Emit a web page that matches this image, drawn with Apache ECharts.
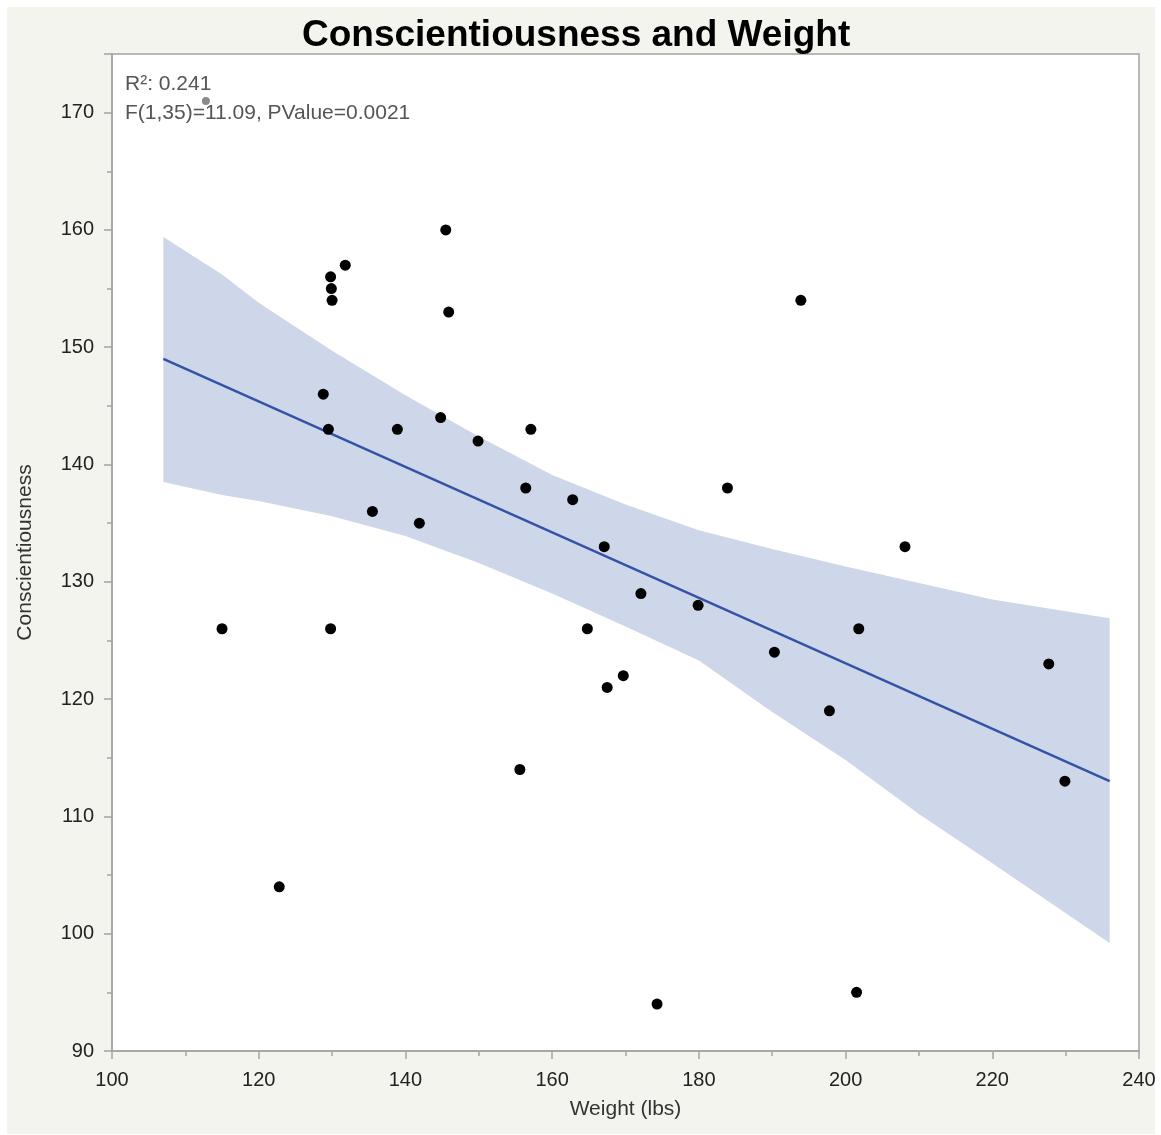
<!DOCTYPE html>
<html>
<head>
<meta charset="utf-8">
<script src="https://cdn.jsdelivr.net/npm/echarts@6.0.0/dist/echarts.min.js"></script>
<style>
  html, body { margin: 0; padding: 0; background: #fff; }
  #chart { position: absolute; left: 7px; top: 7px; width: 1148px; height: 1127px; }
</style>
</head>
<body>
<div id="chart"></div>
<script>
// scatter points
const weight = [115, 122.8, 128.8, 129.5, 129.8, 129.9, 130.0, 129.8, 131.8, 135.5, 138.9, 141.9,
  144.8, 145.5, 145.9, 149.9, 155.6, 156.4, 157.1, 162.8, 164.8, 167.1, 167.5, 169.7,
  172.1, 174.3, 179.9, 183.9, 190.3, 193.9, 197.8, 201.5, 201.8, 208.1, 227.7, 229.9];
const consc = [126, 104, 146, 143, 156, 155, 154, 126, 157, 136, 143, 135,
  144, 160, 153, 142, 114, 138, 143, 137, 126, 133, 121, 122,
  129, 94, 128, 138, 124, 154, 119, 95, 126, 133, 123, 113];

// faint grey marker near the top left
const greyX = [112.8];
const greyY = [171];

// fit line ends
const fitX = [107, 236];
const fitY = [149, 113];

// confidence band edges
const bandX = [107, 115, 120, 130, 140, 150, 160, 170, 180, 190, 200, 210, 220, 236];
const bandLower = [138.5, 137.4, 136.9, 135.6, 133.9, 131.6, 129.0, 126.2, 123.3, 118.9, 114.8, 110.2, 106.0, 99.2];
const bandUpper = [159.4, 156.2, 153.8, 149.7, 145.9, 142.4, 139.1, 136.6, 134.4, 132.8, 131.3, 129.9, 128.5, 126.9];

const xTicks = [100, 120, 140, 160, 180, 200, 220, 240];
const yTicks = [90, 100, 110, 120, 130, 140, 150, 160, 170];

const statLines = ['R\u00b2: 0.241', 'F(1,35)=11.09, PValue=0.0021'];

const FONT = '"Liberation Sans", Arial, sans-serif';

const chart = echarts.init(document.getElementById('chart'));

const option = {
  backgroundColor: '#f4f4ef',
  animation: false,
  title: {
    text: 'Conscientiousness and Weight',
    left: 290,
    top: 5,
    textStyle: { fontFamily: FONT, fontSize: 37, fontWeight: 'bold', color: '#000' }
  },
  grid: {
    left: 105, right: 16, top: 47, bottom: 83,
    outerBoundsMode: 'none',
    containLabel: false,
    show: true,
    backgroundColor: '#fff',
    borderColor: '#a3a3a3',
    borderWidth: 1.5
  },
  graphic: statLines.map((t, i) => ({
    type: 'text',
    left: 118,
    top: 67 + i * 29,
    z: 10,
    style: { text: t, fill: '#555', font: '21px ' + FONT }
  })),
  xAxis: {
    type: 'value',
    min: xTicks[0],
    max: xTicks[xTicks.length - 1],
    interval: 20,
    name: 'Weight (lbs)',
    nameLocation: 'middle',
    nameGap: 48,
    nameTextStyle: { fontFamily: FONT, fontSize: 21, color: '#333' },
    axisLine: { lineStyle: { color: '#a3a3a3', width: 1.5 } },
    axisTick: { show: true, inside: false, length: 8, lineStyle: { color: '#a3a3a3', width: 1.5 } },
    minorTick: { show: true, splitNumber: 2, length: 5, lineStyle: { color: '#a3a3a3', width: 1.5 } },
    axisLabel: { fontFamily: FONT, fontSize: 20, color: '#222', margin: 19 },
    splitLine: { show: false }
  },
  yAxis: {
    type: 'value',
    min: yTicks[0],
    max: 175,
    interval: 10,
    name: 'Conscientiousness',
    nameLocation: 'middle',
    nameGap: 76,
    nameTextStyle: { fontFamily: FONT, fontSize: 21, color: '#333' },
    axisLine: { show: true, lineStyle: { color: '#a3a3a3', width: 1.5 } },
    axisTick: { show: true, inside: false, length: 8, lineStyle: { color: '#a3a3a3', width: 1.5 } },
    minorTick: { show: true, splitNumber: 2, length: 5, lineStyle: { color: '#a3a3a3', width: 1.5 } },
    axisLabel: { fontFamily: FONT, fontSize: 20, color: '#222', margin: 18, showMaxLabel: false },
    splitLine: { show: false }
  },
  series: [
    {
      name: 'band',
      type: 'custom',
      z: 1,
      silent: true,
      data: bandX.map((x, i) => [x, bandLower[i], bandUpper[i]]),
      renderItem: function (params, api) {
        if (params.dataIndex !== 0) return null;
        const pts = [];
        for (let i = 0; i < bandX.length; i++) pts.push(api.coord([bandX[i], bandUpper[i]]));
        for (let i = bandX.length - 1; i >= 0; i--) pts.push(api.coord([bandX[i], bandLower[i]]));
        return { type: 'polygon', shape: { points: pts }, style: { fill: '#ced6e9' } };
      }
    },
    {
      name: 'fit',
      type: 'line',
      z: 2,
      symbol: 'none',
      data: fitX.map((x, i) => [x, fitY[i]]),
      lineStyle: { color: '#3453a6', width: 2.5 }
    },
    {
      name: 'grey',
      type: 'scatter',
      z: 3,
      symbolSize: 8,
      data: greyX.map((x, i) => [x, greyY[i]]),
      itemStyle: { color: '#8a8a8a', opacity: 1 }
    },
    {
      name: 'points',
      type: 'scatter',
      z: 4,
      symbolSize: 11,
      data: weight.map((x, i) => [x, consc[i]]),
      itemStyle: { color: '#000', opacity: 1 }
    }
  ]
};

chart.setOption(option);
window.addEventListener('resize', chart.resize);
</script>
</body>
</html>
